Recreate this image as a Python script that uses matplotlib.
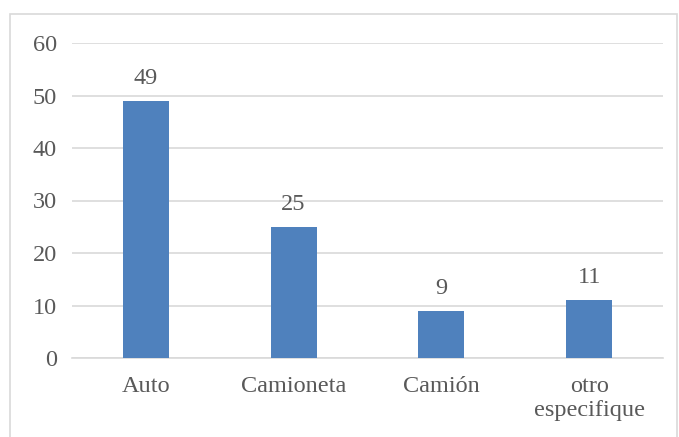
import matplotlib
matplotlib.use('Agg')
import matplotlib.pyplot as plt
from matplotlib.patches import Rectangle

categories = ['Auto', 'Camioneta', 'Camión', 'otro\nespecifique']
values = [49, 25, 9, 11]
yticks = [0, 10, 20, 30, 40, 50, 60]

plt.rcParams['font.family'] = ['Liberation Serif', 'DejaVu Serif']
text_color = '#595959'
grid_color = '#d9d9d9'
fs = 17.5

fig = plt.figure(figsize=(6.79, 4.37), dpi=100)
ax = fig.add_axes([72 / 679, 1 - 358 / 437, 591 / 679, 315 / 437])

# outer chart border
fig.patches.append(Rectangle((10 / 679, -0.01), 667 / 679, 1 - 14 / 437 + 0.01,
                             transform=fig.transFigure, fill=False,
                             edgecolor=grid_color, linewidth=1.2))

x = range(len(categories))
bars = ax.bar(x, values, width=0.31, color='#4f81bd', zorder=3)
for b, v in zip(bars, values):
    ax.text(b.get_x() + b.get_width() / 2, v + 2.3, str(v), ha='center',
            va='bottom', fontsize=fs, color=text_color)

ax.set_xlim(-0.5, len(categories) - 0.5)
ax.set_ylim(0, 60)
ax.set_yticks(yticks)
ax.set_xticks(list(x))
ax.set_xticklabels(categories, linespacing=1.2)
ax.yaxis.grid(True, color=grid_color, linewidth=1.2, zorder=0)
ax.tick_params(axis='both', length=0, labelsize=fs, colors=text_color)
ax.tick_params(axis='y', pad=11)
ax.tick_params(axis='x', pad=13)
for s in ['top', 'right', 'left']:
    ax.spines[s].set_visible(False)
ax.spines['bottom'].set_color(grid_color)
ax.spines['bottom'].set_linewidth(1.2)

fig.savefig('out.png', dpi=100)
